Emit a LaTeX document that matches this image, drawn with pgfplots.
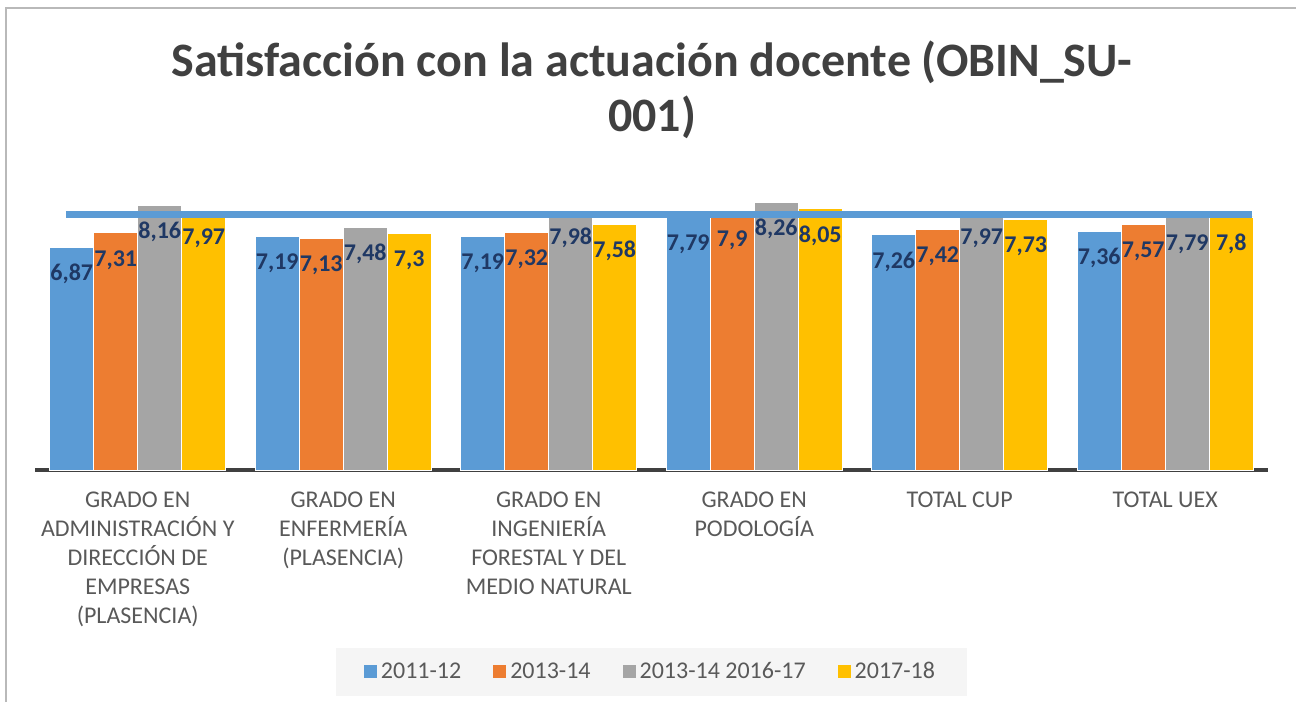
\documentclass[border=0pt]{standalone}
\usepackage{fontspec}
\setmainfont{Carlito}
\usepackage{pgfplots}
\pgfplotsset{compat=1.18}
\definecolor{cBlue}{HTML}{5B9BD5}
\definecolor{cOrange}{HTML}{ED7D31}
\definecolor{cGray}{HTML}{A5A5A5}
\definecolor{cYellow}{HTML}{FFC000}
\definecolor{cTitle}{HTML}{404040}
\definecolor{cText}{HTML}{595959}
\definecolor{cGrid}{HTML}{D9D9D9}
\definecolor{cAxis}{HTML}{404040}
\definecolor{cLab}{HTML}{1F3864}
\definecolor{cLeg}{HTML}{F5F5F5}
\begin{document}
\begin{tikzpicture}
\path[use as bounding box] (0,0) rectangle (648pt,351pt);
\draw[color=gray!55, line width=1pt] (3pt,0) -- (3pt,347pt) -- (648pt,347pt);
\node[font=\bfseries\fontsize{24}{28}\selectfont, text=cTitle] at (326pt,320pt) {Satisfacción con la actuación docente (OBIN\_SU-};
\node[font=\bfseries\fontsize{24}{28}\selectfont, text=cTitle] at (326pt,292.5pt) {001)};
\begin{axis}[
  at={(17.5pt,116pt)}, anchor=south west,
  scale only axis, width=616.5pt, height=146pt,
  xmin=-0.5, xmax=5.5, ymin=0, ymax=9,
  axis y line=none, axis x line*=bottom,
  x axis line style={line width=2.2pt, color=cAxis, -},
  ytick={1,2,3,4,5,6,7,8,9}, yticklabels={},
  ymajorgrids, grid style={color=cGrid, line width=0.8pt},
  xtick={0,1,2,3,4,5},
  xticklabels={{GRADO EN\\ADMINISTRACIÓN Y\\DIRECCIÓN DE\\EMPRESAS\\(PLASENCIA)},
               {GRADO EN\\ENFERMERÍA\\(PLASENCIA)},
               {GRADO EN\\INGENIERÍA\\FORESTAL Y DEL\\MEDIO NATURAL},
               {GRADO EN\\PODOLOGÍA},
               {TOTAL CUP},
               {TOTAL UEX}},
  major tick length=0pt,
  xticklabel style={align=center, anchor=north, inner sep=0pt, yshift=-11pt,
     font=\fontsize{12}{14.5}\selectfont, text=cText},
  /pgf/number format/use comma,
  /pgf/number format/assume math mode=true,
  every node near coord/.append style={font=\bfseries\fontsize{12}{14}\selectfont,
     text=cLab, anchor=center, yshift=-13.5pt},
  legend style={at={(0.5,-0.692)}, anchor=center, legend columns=4,
     fill=cLeg, draw=none, font=\fontsize{12}{14}\selectfont, text=cText,
     inner xsep=14pt, inner ysep=5pt,
     /tikz/every even column/.append style={column sep=14pt}},
  legend image code/.code={\path[#1,draw=none] (0pt,-3pt) rectangle (6.5pt,3.5pt);},
]
\addplot[ybar, bar width=22pt, bar shift=-33pt, fill=cBlue, draw=white, line width=0.4pt,
  nodes near coords, every node near coord/.append style={xshift=-33pt}]
  coordinates {(0,6.87) (1,7.19) (2,7.19) (3,7.79) (4,7.26) (5,7.36)};
\addplot[ybar, bar width=22pt, bar shift=-11pt, fill=cOrange, draw=white, line width=0.4pt,
  nodes near coords, every node near coord/.append style={xshift=-11pt}]
  coordinates {(0,7.31) (1,7.13) (2,7.32) (3,7.9) (4,7.42) (5,7.57)};
\addplot[ybar, bar width=22pt, bar shift=11pt, fill=cGray, draw=white, line width=0.4pt,
  nodes near coords, every node near coord/.append style={xshift=11pt}]
  coordinates {(0,8.16) (1,7.48) (2,7.98) (3,8.26) (4,7.97) (5,7.79)};
\addplot[ybar, bar width=22pt, bar shift=33pt, fill=cYellow, draw=white, line width=0.4pt,
  nodes near coords, every node near coord/.append style={xshift=33pt}]
  coordinates {(0,7.97) (1,7.3) (2,7.58) (3,8.05) (4,7.73) (5,7.8)};
\addplot[cBlue, line width=3.5pt, forget plot] coordinates {(-0.35,7.86) (5.42,7.86)};
\legend{2011-12, 2013-14, 2013-14 2016-17, 2017-18}
\end{axis}
\end{tikzpicture}
\end{document}
